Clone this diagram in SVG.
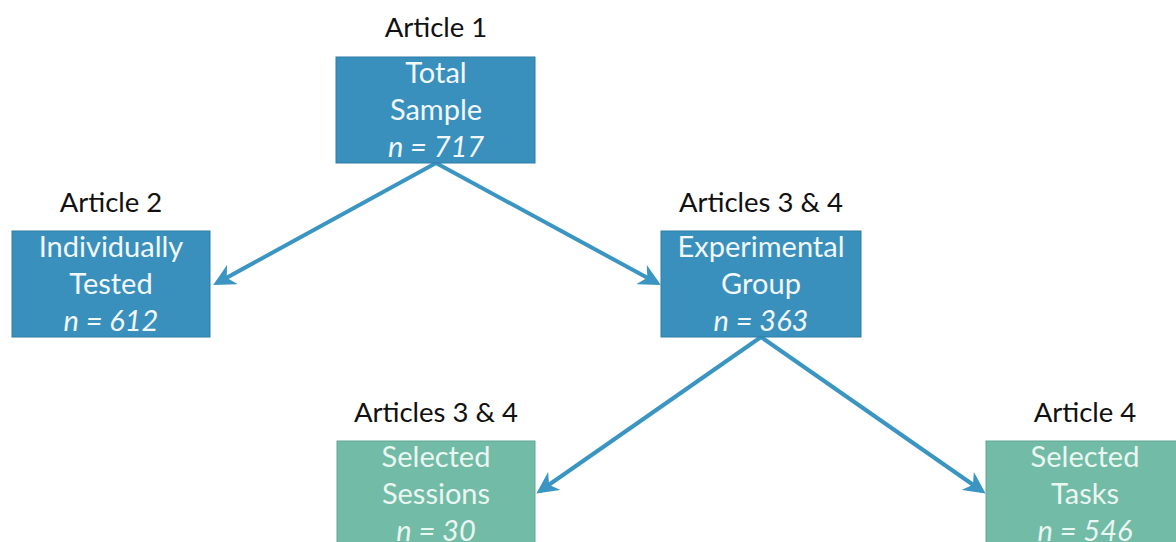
<svg xmlns="http://www.w3.org/2000/svg" width="1176" height="542" viewBox="0 0 1176 542">
<style>
.box{fill:#3990BD;stroke:#2F7CA5;stroke-width:1}
.gbox{fill:#72BBA6;stroke:#62A893;stroke-width:1}
.t{font-family:Lato,"Open Sans",sans-serif;font-size:29px;text-anchor:middle}
.w{fill:#F2F8FC}
.g{fill:#EAF6F1}
.h{fill:#111;font-size:27.5px}
.i{font-style:italic}
.c{stroke:#3A95C2;stroke-width:4;fill:none;marker-end:url(#ah)}
</style>
<defs>
<marker id="ah" viewBox="0 0 10 10" refX="8" refY="5" markerWidth="5.5" markerHeight="5.5" orient="auto" markerUnits="strokeWidth">
<path d="M0,0 L10,5 L0,10 L3,5 Z" fill="#3A95C2"/>
</marker>
</defs>
<rect width="1176" height="542" fill="#fff"/>
<g id="connectors">
<line class="c" x1="436" y1="163" x2="217" y2="283"/>
<line class="c" x1="436" y1="163" x2="657" y2="283"/>
<line class="c" x1="761" y1="337" x2="540" y2="491"/>
<line class="c" x1="761" y1="337" x2="982" y2="491"/>
</g>
<g id="total">
<text class="t h" x="436" y="37">Article 1</text>
<rect class="box" x="336" y="57" width="199" height="106"/>
<text class="t w" x="436" y="83">Total</text>
<text class="t w" x="436" y="120">Sample</text>
<text class="t w i" x="436" y="157">n = 717</text>
</g>
<g id="individual">
<text class="t h" x="111" y="212">Article 2</text>
<rect class="box" x="12" y="231" width="198" height="106"/>
<text class="t w" x="111" y="257">Individually</text>
<text class="t w" x="111" y="294">Tested</text>
<text class="t w i" x="111" y="331">n = 612</text>
</g>
<g id="experimental">
<text class="t h" x="761" y="212">Articles 3 &amp; 4</text>
<rect class="box" x="661" y="231" width="200" height="106"/>
<text class="t w" x="761" y="257">Experimental</text>
<text class="t w" x="761" y="294">Group</text>
<text class="t w i" x="761" y="331">n = 363</text>
</g>
<g id="sessions">
<text class="t h" x="436" y="422">Articles 3 &amp; 4</text>
<rect class="gbox" x="337" y="441" width="198" height="110"/>
<text class="t g" x="436" y="467">Selected</text>
<text class="t g" x="436" y="504">Sessions</text>
<text class="t g i" x="436" y="541">n = 30</text>
</g>
<g id="tasks">
<text class="t h" x="1085" y="422">Article 4</text>
<rect class="gbox" x="986" y="441" width="200" height="110"/>
<text class="t g" x="1085" y="467">Selected</text>
<text class="t g" x="1085" y="504">Tasks</text>
<text class="t g i" x="1085" y="541">n = 546</text>
</g>
</svg>
